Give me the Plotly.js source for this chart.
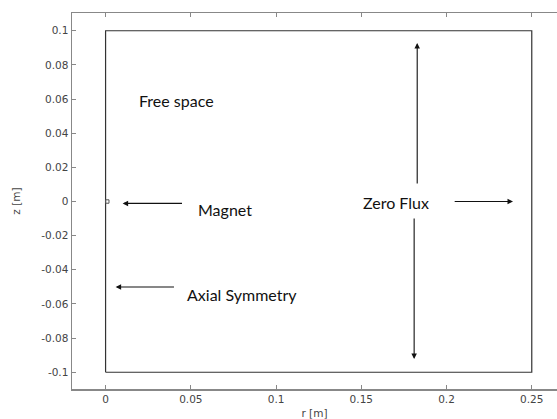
<!DOCTYPE html>
<html>
<head>
<meta charset="utf-8">
<script src="https://cdn.plot.ly/plotly-3.0.1.min.js"></script>
<style>html,body{margin:0;padding:0;background:#fff;overflow:hidden}#chart{width:557px;height:419px}</style>
</head>
<body>
<div id="chart"></div>
<script>
// Geometry (r, z in metres)
const domainR = [0, 0.25];
const domainZ = [-0.1, 0.1];
const magnetR = [0, 0.002];
const magnetZ = [-0.001, 0.001];

// Axis ticks
const xTicks = [0, 0.05, 0.1, 0.15, 0.2, 0.25];
const xTickLabels = ['0', '0.05', '0.1', '0.15', '0.2', '0.25'];
const yTicks = [-0.1, -0.08, -0.06, -0.04, -0.02, 0, 0.02, 0.04, 0.06, 0.08, 0.1];
const yTickLabels = ['-0.1', '-0.08', '-0.06', '-0.04', '-0.02', '0', '0.02', '0.04', '0.06', '0.08', '0.1'];

// Labels
const labelTexts = ['Free space', 'Magnet', 'Axial Symmetry', 'Zero Flux'];
const labelR = [0.0185, 0.0530, 0.0468, 0.1500];
const labelZ = [0.0594, -0.0044, -0.0542, -0.0003];

// Arrows: head (r,z) and tail (r,z)
const arrowHeadR = [0.0100, 0.0059, 0.1828, 0.1810, 0.2390];
const arrowHeadZ = [-0.0011, -0.0501, 0.0928, -0.0922, 0.0000];
const arrowTailR = [0.0457, 0.0410, 0.1828, 0.1810, 0.2039];
const arrowTailZ = [-0.0011, -0.0501, 0.0097, -0.0091, 0.0000];

const rectTrace = (rr, zz, color, w) => ({
  x: [rr[0], rr[1], rr[1], rr[0], rr[0]],
  y: [zz[0], zz[0], zz[1], zz[1], zz[0]],
  mode: 'lines', type: 'scatter', hoverinfo: 'skip',
  line: {color: color, width: w}, showlegend: false
});

const data = [
  rectTrace(domainR, domainZ, '#333333', 1.2),
  rectTrace(magnetR, magnetZ, '#555555', 1)
];

const annotations = [];
labelTexts.forEach((t, i) => {
  annotations.push({
    x: labelR[i], y: labelZ[i], xref: 'x', yref: 'y', text: t,
    showarrow: false, xanchor: 'left', yanchor: 'middle',
    font: {family: 'Lato, sans-serif', size: 16, color: '#111'}
  });
});
arrowHeadR.forEach((hr, i) => {
  annotations.push({
    x: hr, y: arrowHeadZ[i], ax: arrowTailR[i], ay: arrowTailZ[i],
    xref: 'x', yref: 'y', axref: 'x', ayref: 'y', text: '',
    showarrow: true, arrowhead: 2, arrowsize: 1, arrowwidth: 1.1,
    arrowcolor: '#111', standoff: 0, startstandoff: 0
  });
});

const axisCommon = {
  showgrid: false, zeroline: false, showline: true, linecolor: '#888', linewidth: 1.5,
  ticks: 'inside', ticklen: 4, tickcolor: '#888', tickwidth: 1,
  tickfont: {family: 'DejaVu Sans, sans-serif', size: 10.5, color: '#444'}
};

const layout = {
  width: 557, height: 419,
  margin: {l: 72, r: 0, t: 13, b: 30},
  paper_bgcolor: '#fff', plot_bgcolor: '#fff',
  xaxis: Object.assign({}, axisCommon, {
    range: [-0.0197, 0.2648], mirror: 'ticks',
    tickvals: xTicks, ticktext: xTickLabels,
    title: {text: 'r [m]', font: {family: 'DejaVu Sans, sans-serif', size: 10.5, color: '#444'}, standoff: 9}
  }),
  yaxis: Object.assign({}, axisCommon, {
    range: [-0.1098, 0.1104], mirror: false,
    tickvals: yTicks, ticktext: yTickLabels,
    title: {text: 'z [m]', font: {family: 'DejaVu Sans, sans-serif', size: 10.5, color: '#444'}, standoff: 18}
  }),
  annotations: annotations
};

Plotly.newPlot('chart', data, layout, {staticPlot: true, displayModeBar: false});
</script>
</body>
</html>
